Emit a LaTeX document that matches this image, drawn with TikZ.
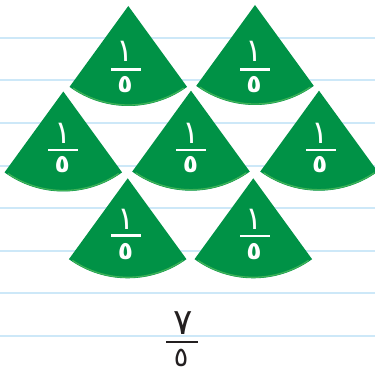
\documentclass[tikz,border=0pt]{standalone}
\usepackage{fontspec}
\newfontfamily\arabicfont[Script=Arabic]{DejaVu Sans}
\TeXXeTstate=1
\usetikzlibrary{positioning}
\definecolor{figgreen}{RGB}{0,146,70}
\definecolor{figedge}{RGB}{62,178,88}
\definecolor{figrule}{RGB}{205,232,248}
\definecolor{figink}{RGB}{35,31,32}
\tikzset{
  rule/.style  ={draw=figrule, line width=2pt},
  piece/.style ={fill=figgreen},
  rim/.style   ={draw=figedge, line width=1.3pt},
  upper/.style ={font=\arabicfont\fontsize{32}{32}\selectfont, text=white, inner sep=0pt},
  lower/.style ={font=\arabicfont\bfseries\fontsize{25}{25}\selectfont, text=white, inner sep=0pt},
  fbar/.style  ={fill=white, minimum width=30pt, minimum height=2.7pt, inner sep=0pt},
  tupper/.style={font=\arabicfont\fontsize{36}{36}\selectfont, text=figink, inner sep=0pt},
  tlower/.style={font=\arabicfont\fontsize{27}{27}\selectfont, text=figink, inner sep=0pt},
  tbar/.style  ={fill=figink, minimum width=32.7pt, minimum height=2pt, inner sep=0pt},
}

\begin{document}
\begin{tikzpicture}[x=1pt,y=1pt]
  \useasboundingbox (0,0) rectangle (375,371);
  % ruled paper
  \draw[rule] (0,333.3) -- (375,333.3);
  \draw[rule] (0,291) -- (375,291);
  \draw[rule] (0,248.3) -- (375,248.3);
  \draw[rule] (0,205.3) -- (375,205.3);
  \draw[rule] (0,162.7) -- (375,162.7);
  \draw[rule] (0,120.3) -- (375,120.3);
  \draw[rule] (0,77.7) -- (375,77.7);
  \draw[rule] (0,35) -- (375,35);
  % apexes of the seven pieces
  \coordinate (p1) at (128.3,365);
  \coordinate (p2) at (255,366);
  \coordinate (p3) at (63.3,279.5);
  \coordinate (p4) at (191,280.3);
  \coordinate (p5) at (319,280.3);
  \coordinate (p6) at (127.7,192.7);
  \coordinate (p7) at (253.3,192.7);
  % pieces
  \fill[piece] (p1) -- ++(234:100) arc[start angle=234,end angle=306,radius=100] -- cycle;
  \draw[rim] (p1) ++(236:99) arc[start angle=236,end angle=304,radius=99];
  \fill[piece] (p2) -- ++(234:100) arc[start angle=234,end angle=306,radius=100] -- cycle;
  \draw[rim] (p2) ++(236:99) arc[start angle=236,end angle=304,radius=99];
  \fill[piece] (p3) -- ++(234:100) arc[start angle=234,end angle=306,radius=100] -- cycle;
  \draw[rim] (p3) ++(236:99) arc[start angle=236,end angle=304,radius=99];
  \fill[piece] (p4) -- ++(234:100) arc[start angle=234,end angle=306,radius=100] -- cycle;
  \draw[rim] (p4) ++(236:99) arc[start angle=236,end angle=304,radius=99];
  \fill[piece] (p5) -- ++(234:100) arc[start angle=234,end angle=306,radius=100] -- cycle;
  \draw[rim] (p5) ++(236:99) arc[start angle=236,end angle=304,radius=99];
  \fill[piece] (p6) -- ++(234:100) arc[start angle=234,end angle=306,radius=100] -- cycle;
  \draw[rim] (p6) ++(236:99) arc[start angle=236,end angle=304,radius=99];
  \fill[piece] (p7) -- ++(234:100) arc[start angle=234,end angle=306,radius=100] -- cycle;
  \draw[rim] (p7) ++(236:99) arc[start angle=236,end angle=304,radius=99];
  % labels on the pieces
  \node[upper] (n1) at (125.3,319.3) {\beginR ١\endR};
  \node[fbar]  (b1) at (125.8,301.3) {};
  \node[lower] (d1) at (125,286) {\beginR ٥\endR};
  \node[upper] (n2) at (254,319.3) {\beginR ١\endR};
  \node[fbar]  (b2) at (254.6,301.3) {};
  \node[lower] (d2) at (254,286) {\beginR ٥\endR};
  \node[upper] (n3) at (62.6,238) {\beginR ١\endR};
  \node[fbar]  (b3) at (62.8,221) {};
  \node[lower] (d3) at (62.3,206.5) {\beginR ٥\endR};
  \node[upper] (n4) at (191.3,237.7) {\beginR ١\endR};
  \node[fbar]  (b4) at (191.3,221) {};
  \node[lower] (d4) at (190.6,206.3) {\beginR ٥\endR};
  \node[upper] (n5) at (320.3,237.7) {\beginR ١\endR};
  \node[fbar]  (b5) at (320.5,221) {};
  \node[lower] (d5) at (319.8,206.3) {\beginR ٥\endR};
  \node[upper] (n6) at (126,151.3) {\beginR ١\endR};
  \node[fbar]  (b6) at (126.2,135.5) {};
  \node[lower] (d6) at (125.6,119.7) {\beginR ٥\endR};
  \node[upper] (n7) at (254.5,151.3) {\beginR ١\endR};
  \node[fbar]  (b7) at (254.7,135) {};
  \node[lower] (d7) at (254.1,119.7) {\beginR ٥\endR};
  % total
  \node[tupper] (tn) at (182.7,47.7) {\beginR ٧\endR};
  \node[tbar]   (tb) at (182,29.3) {};
  \node[tlower] (td) at (181,13) {\beginR ٥\endR};
\end{tikzpicture}
\end{document}
